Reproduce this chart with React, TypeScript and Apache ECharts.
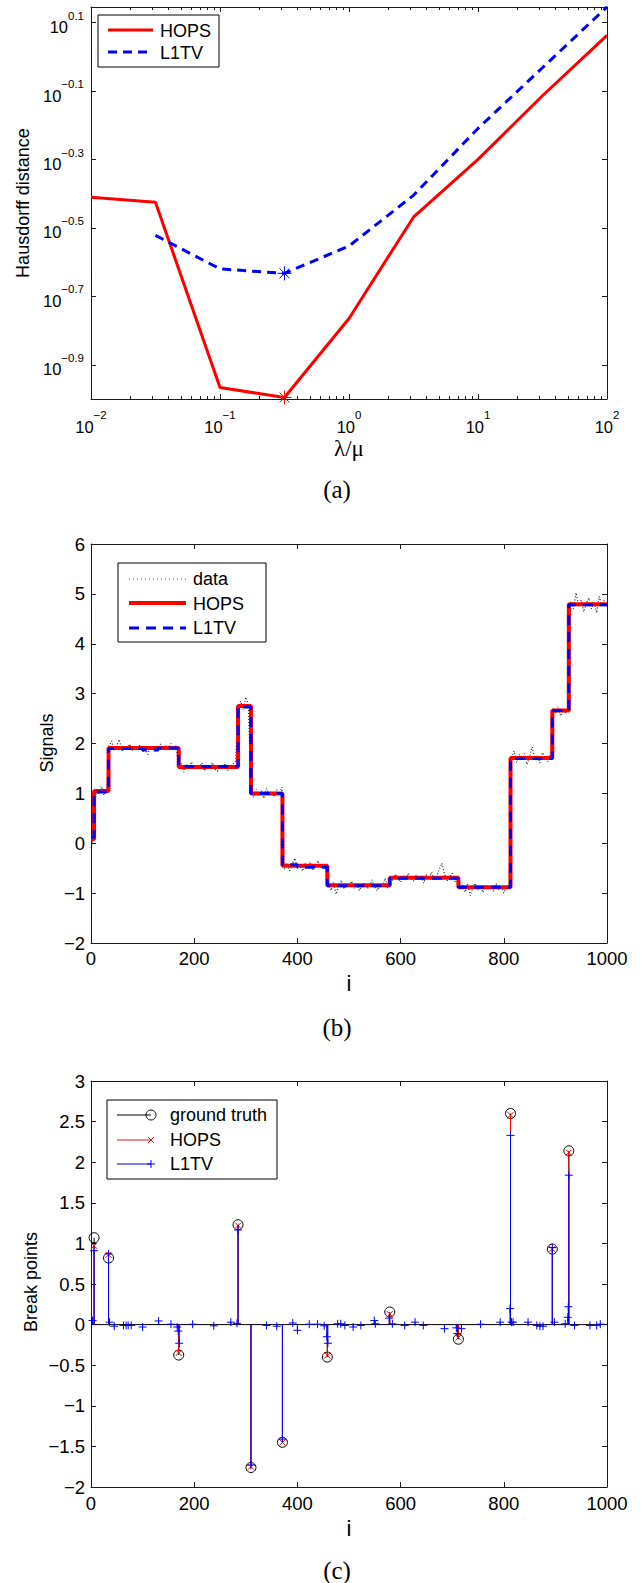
import React, { useEffect, useRef } from 'react';
import * as echarts from 'echarts';

const SANS = '"Liberation Sans", Arial, Helvetica, sans-serif';
const SERIF = '"Liberation Serif", "Times New Roman", serif';
const AX = '#1a1a1a';

// ---------- (a) Hausdorff distance vs lambda/mu ----------
const lambdaMu = [0.01, 0.0316, 0.1, 0.316, 1, 3.16, 10, 31.6, 100];
const hopsHausdorff = [0.389, 0.376, 0.108, 0.101, 0.172, 0.34, 0.502, 0.77, 1.156];
const l1tvHausdorff = [null, 0.301, 0.24, 0.233, 0.28, 0.394, 0.618, 0.93, 1.4];
const bestIndex = 3;
const aXTickExp = [-2, -1, 0, 1, 2];
const aYTickExp = [0.1, -0.1, -0.3, -0.5, -0.7, -0.9];

// ---------- (b) signals ----------
const hopsStarts = [0, 6, 34, 170, 285, 310, 371, 458, 579, 712, 813, 894, 926, 1000];
const hopsLevels = [0.08, 1.05, 1.91, 1.53, 2.75, 1.0, -0.45, -0.84, -0.69, -0.88, 1.71, 2.66, 4.79, 4.79];
const l1tvStarts = [0, 6, 34, 100, 130, 170, 285, 310, 371, 400, 458, 579, 712, 813, 894, 926, 1000];
const l1tvLevels = [0.12, 1.03, 1.9, 1.87, 1.91, 1.54, 2.73, 1.0, -0.43, -0.48, -0.85, -0.7, -0.88, 1.7, 2.66, 4.78, 4.78];
const dataStep = 5;
const dataValues = [
  -0.10, 0.15,
  1.08, 0.98, 1.14, 0.96, 1.06,
  1.95, 2.05, 1.85, 1.96, 2.08, 1.84, 1.93, 1.88, 1.99, 1.86, 1.95, 1.90, 1.97, 1.83, 1.92, 1.78, 1.94, 1.88, 1.96, 1.85, 1.99, 1.87, 1.95, 1.90, 2.00, 1.86, 1.97,
  1.48, 1.60, 1.42, 1.58, 1.50, 1.63, 1.47, 1.55, 1.52, 1.61, 1.45, 1.57, 1.50, 1.62, 1.49, 1.44, 1.56, 1.53, 1.60, 1.46, 1.54, 1.58, 1.65,
  2.72, 2.85, 2.68, 2.93, 2.78,
  1.02, 0.92, 1.08, 0.96, 1.05, 0.90, 1.10, 0.98, 1.04, 0.93, 1.07, 0.99, 1.12,
  -0.52, -0.40, -0.55, -0.42, -0.30, -0.50, -0.44, -0.56, -0.41, -0.48, -0.38, -0.53, -0.45, -0.35, -0.49, -0.43, -0.51,
  -0.80, -0.95, -0.78, -1.02, -0.86, -0.74, -0.92, -0.83, -0.88, -0.76, -0.90, -0.81, -0.95, -0.84, -0.79, -0.91, -0.86, -0.73, -0.88, -0.95, -0.82, -0.87, -0.70, -0.90,
  -0.65, -0.75, -0.62, -0.71, -0.78, -0.66, -0.73, -0.60, -0.70, -0.76, -0.64, -0.72, -0.67, -0.80, -0.63, -0.70, -0.58, -0.74, -0.66, -0.52, -0.40, -0.62, -0.75, -0.68, -0.60, -0.77, -0.66,
  -0.92, -0.84, -0.98, -0.82, -1.05, -0.89, -0.80, -0.94, -0.87, -0.99, -0.83, -0.91, -0.86, -0.96, -0.81, -0.93, -0.85, -1.00, -0.88, -0.82,
  1.72, 1.85, 1.62, 1.78, 1.68, 1.80, 1.58, 1.74, 1.93, 1.66, 1.76, 1.61, 1.82, 1.70, 1.64, 1.77,
  2.70, 2.60, 2.74, 2.55, 2.68, 2.62, 2.72,
  4.85, 4.70, 5.02, 4.75, 4.88, 4.64, 4.81, 4.92, 4.70, 4.84, 4.62, 4.95, 4.76, 4.88,
];

// ---------- (c) break points ----------
const truthIdx = [6, 34, 170, 285, 310, 371, 458, 579, 712, 813, 894, 926];
const truthVal = [1.07, 0.82, -0.375, 1.23, -1.76, -1.45, -0.4, 0.155, -0.18, 2.6, 0.93, 2.14];
const hopsBpVal = [0.97, 0.86, -0.35, 1.22, -1.75, -1.45, -0.38, 0.13, -0.16, 2.58, 0.93, 2.12];
const l1tvIdx = [3, 6, 34, 36, 45, 63, 68, 72, 78, 100, 131, 155, 167, 169, 171, 197, 238, 271, 283, 285, 310, 340, 360, 371, 391, 400, 423, 439, 452, 457, 459, 478, 484, 492, 508, 523, 549, 551, 578, 584, 608, 628, 644, 685, 708, 710, 718, 755, 793, 812, 813, 815, 818, 847, 864, 870, 876, 894, 898, 919, 924, 925, 926, 937, 967, 980, 987];
const l1tvVal = [0.05, 0.91, 0.87, 0.03, -0.02, -0.01, -0.01, -0.01, -0.01, -0.03, 0.045, 0.005, -0.03, -0.08, -0.23, 0.005, -0.015, 0.03, 0.015, 1.165, -1.73, -0.01, -0.02, -1.41, 0.02, -0.07, 0.005, 0.005, -0.015, -0.15, -0.23, 0.01, 0.01, -0.01, -0.03, -0.01, 0.05, 0.01, 0.08, 0.01, -0.01, 0.03, -0.01, -0.05, -0.04, -0.11, -0.05, 0.005, 0.03, 0.197, 2.33, 0.03, 0.03, 0.03, -0.01, -0.02, -0.02, 0.95, 0.03, 0.01, 0.09, 0.22, 1.84, -0.01, -0.01, -0.01, 0.005];

const minus = (s: string) => s.replace('-', '\u2212');
const fmtNum = (v: number) => minus(String(v));

function markerEls(kind: string, x: number, y: number, r: number, color: string, lw = 1): any[] {
  const L = (x1: number, y1: number, x2: number, y2: number) => ({
    type: 'line',
    shape: { x1, y1, x2, y2 },
    style: { stroke: color, lineWidth: lw },
  });
  if (kind === 'plus') return [L(x - r, y, x + r, y), L(x, y - r, x, y + r)];
  if (kind === 'x') {
    const d = r * 0.75;
    return [L(x - d, y - d, x + d, y + d), L(x - d, y + d, x + d, y - d)];
  }
  if (kind === 'star') {
    const d = r * 0.7;
    return [L(x - r, y, x + r, y), L(x, y - r, x, y + r), L(x - d, y - d, x + d, y + d), L(x - d, y + d, x + d, y - d)];
  }
  return [{ type: 'circle', shape: { cx: x, cy: y, r }, style: { fill: 'none', stroke: color, lineWidth: lw } }];
}

function markerSeries(data: number[][], kind: string, r: number, color: string, xi: number, yi: number, z: number) {
  return {
    type: 'custom',
    coordinateSystem: 'cartesian2d',
    xAxisIndex: xi,
    yAxisIndex: yi,
    z,
    data,
    encode: { x: 0, y: 1 },
    renderItem: (_p: any, api: any) => {
      const p = api.coord([api.value(0), api.value(1)]);
      return { type: 'group', children: markerEls(kind, p[0], p[1], r, color) };
    },
  };
}

function stemSeries(data: number[][], kind: string, r: number, color: string, xi: number, yi: number, z: number) {
  return {
    type: 'custom',
    coordinateSystem: 'cartesian2d',
    xAxisIndex: xi,
    yAxisIndex: yi,
    z,
    data,
    encode: { x: 0, y: 1 },
    renderItem: (_p: any, api: any) => {
      const x = api.value(0);
      const v = api.value(1);
      const p0 = api.coord([x, 0]);
      const p1 = api.coord([x, v]);
      return {
        type: 'group',
        children: [
          { type: 'line', shape: { x1: p0[0], y1: p0[1], x2: p1[0], y2: p1[1] }, style: { stroke: color, lineWidth: 1 } },
          ...markerEls(kind, p1[0], p1[1], r, color),
        ],
      };
    },
  };
}

const axisLineStyle = { show: true, onZero: false, lineStyle: { color: AX, width: 1 } };
const tickStyle = (extra: any = {}) => ({ show: true, inside: true, length: 5, lineStyle: { color: AX, width: 1 }, ...extra });
const labelStyle = { color: '#000', fontFamily: SANS, fontSize: 18.5 };

const supRich = {
  b: { fontFamily: SANS, fontSize: 16.5, color: '#000', lineHeight: 26, verticalAlign: 'bottom' },
  s: { fontFamily: SANS, fontSize: 11.5, color: '#000', lineHeight: 9, verticalAlign: 'top' },
};
const supLabel = (v: number) => `{b|10}{s|${fmtNum(v)}}`;

function buildOption(): any {
  const gridA = { left: 91, top: 7, width: 516, height: 392, containLabel: false };
  const gridB = { left: 91, top: 544, width: 516, height: 399, containLabel: false };
  const gridC = { left: 91, top: 1081, width: 516, height: 406, containLabel: false };

  const minorA: number[] = [];
  for (let d = -2; d < 2; d++) for (let k = 2; k <= 9; k++) minorA.push(d + Math.log10(k));

  const xAxis: any[] = [
    {
      type: 'value', gridIndex: 0, position: 'bottom', min: -2, max: 2, interval: 1,
      axisLine: axisLineStyle, axisTick: tickStyle({ customValues: aXTickExp }), splitLine: { show: false },
      axisLabel: { margin: 10, customValues: aXTickExp, formatter: supLabel, rich: supRich },
    },
    {
      type: 'value', gridIndex: 0, position: 'top', min: -2, max: 2, interval: 1,
      axisLine: axisLineStyle, axisTick: tickStyle(), splitLine: { show: false }, axisLabel: { show: false },
    },
    {
      type: 'value', gridIndex: 0, position: 'bottom', min: -2, max: 2,
      axisLine: { show: false, onZero: false }, axisTick: tickStyle({ length: 3, customValues: minorA }),
      splitLine: { show: false }, axisLabel: { show: false },
    },
    {
      type: 'value', gridIndex: 0, position: 'top', min: -2, max: 2,
      axisLine: { show: false, onZero: false }, axisTick: tickStyle({ length: 3, customValues: minorA }),
      splitLine: { show: false }, axisLabel: { show: false },
    },
    {
      type: 'value', gridIndex: 1, position: 'bottom', min: 0, max: 1000, interval: 200,
      axisLine: axisLineStyle, axisTick: tickStyle(), splitLine: { show: false },
      axisLabel: { ...labelStyle, margin: 6, formatter: fmtNum },
    },
    {
      type: 'value', gridIndex: 1, position: 'top', min: 0, max: 1000, interval: 200,
      axisLine: axisLineStyle, axisTick: tickStyle(), splitLine: { show: false }, axisLabel: { show: false },
    },
    {
      type: 'value', gridIndex: 2, position: 'bottom', min: 0, max: 1000, interval: 200,
      axisLine: axisLineStyle, axisTick: tickStyle(), splitLine: { show: false },
      axisLabel: { ...labelStyle, margin: 7, formatter: fmtNum },
    },
    {
      type: 'value', gridIndex: 2, position: 'top', min: 0, max: 1000, interval: 200,
      axisLine: axisLineStyle, axisTick: tickStyle(), splitLine: { show: false }, axisLabel: { show: false },
    },
  ];

  const yAxis: any[] = [
    {
      type: 'value', gridIndex: 0, position: 'left', min: -1, max: 0.146,
      axisLine: axisLineStyle, axisTick: tickStyle({ customValues: aYTickExp }), splitLine: { show: false },
      axisLabel: { margin: 7, customValues: aYTickExp, formatter: supLabel, rich: supRich },
    },
    {
      type: 'value', gridIndex: 0, position: 'right', min: -1, max: 0.146,
      axisLine: axisLineStyle, axisTick: tickStyle({ customValues: aYTickExp }), splitLine: { show: false },
      axisLabel: { show: false },
    },
    {
      type: 'value', gridIndex: 1, position: 'left', min: -2, max: 6, interval: 1,
      axisLine: axisLineStyle, axisTick: tickStyle(), splitLine: { show: false },
      axisLabel: { ...labelStyle, margin: 6, formatter: fmtNum },
    },
    {
      type: 'value', gridIndex: 1, position: 'right', min: -2, max: 6, interval: 1,
      axisLine: axisLineStyle, axisTick: tickStyle(), splitLine: { show: false }, axisLabel: { show: false },
    },
    {
      type: 'value', gridIndex: 2, position: 'left', min: -2, max: 3, interval: 0.5,
      axisLine: axisLineStyle, axisTick: tickStyle(), splitLine: { show: false },
      axisLabel: { ...labelStyle, margin: 6, formatter: fmtNum },
    },
    {
      type: 'value', gridIndex: 2, position: 'right', min: -2, max: 3, interval: 0.5,
      axisLine: axisLineStyle, axisTick: tickStyle(), splitLine: { show: false }, axisLabel: { show: false },
    },
  ];

  const hopsA = lambdaMu.map((x, i) => [Math.log10(x), Math.log10(hopsHausdorff[i])]);
  const l1tvA = lambdaMu
    .map((x, i) => (l1tvHausdorff[i] == null ? null : [Math.log10(x), Math.log10(l1tvHausdorff[i] as number)]))
    .filter((p) => p) as number[][];
  const bestHops = [[Math.log10(lambdaMu[bestIndex]), Math.log10(hopsHausdorff[bestIndex])]];
  const bestL1 = [[Math.log10(lambdaMu[bestIndex]), Math.log10(l1tvHausdorff[bestIndex] as number)]];

  const hopsB = hopsStarts.map((s, i) => [s, hopsLevels[i]]);
  const l1tvB = l1tvStarts.map((s, i) => [s, l1tvLevels[i]]);
  const dataB = dataValues.map((v, i) => [i * dataStep, v]);

  const truthC = truthIdx.map((s, i) => [s, truthVal[i]]);
  const hopsC = truthIdx.map((s, i) => [s, hopsBpVal[i]]);
  const l1tvC = l1tvIdx.map((s, i) => [s, l1tvVal[i]]);

  const series: any[] = [
    { type: 'line', xAxisIndex: 0, yAxisIndex: 0, data: hopsA, symbol: 'none', z: 2,
      lineStyle: { color: '#ff0000', width: 3 } },
    { type: 'line', xAxisIndex: 0, yAxisIndex: 0, data: l1tvA, symbol: 'none', z: 3,
      lineStyle: { color: '#0000ff', width: 3, type: [9, 6] } },
    markerSeries(bestHops, 'star', 7, '#ff0000', 0, 0, 4),
    markerSeries(bestL1, 'star', 7, '#0000ff', 0, 0, 4),

    { type: 'line', xAxisIndex: 4, yAxisIndex: 2, data: dataB, symbol: 'none', z: 2,
      lineStyle: { color: '#222', width: 1.2, type: [1, 2] } },
    { type: 'line', xAxisIndex: 4, yAxisIndex: 2, data: hopsB, step: 'end', symbol: 'none', z: 3,
      lineStyle: { color: '#ff0000', width: 4 } },
    { type: 'line', xAxisIndex: 4, yAxisIndex: 2, data: l1tvB, step: 'end', symbol: 'none', z: 4,
      lineStyle: { color: '#0000ff', width: 3, type: [10, 7] } },

    { type: 'line', xAxisIndex: 6, yAxisIndex: 4, data: [[0, 0], [1000, 0]], symbol: 'none', z: 2,
      lineStyle: { color: '#000', width: 1 } },
    stemSeries(truthC, 'circle', 5, '#000000', 6, 4, 3),
    stemSeries(hopsC, 'x', 4, '#ff0000', 6, 4, 4),
    stemSeries(l1tvC, 'plus', 4, '#0000ff', 6, 4, 5),
  ];

  const txt = (text: string, x: number, y: number, size: number, font = SANS, extra: any = {}) => ({
    type: 'text', x, y, z: 100, ...extra,
    style: { text, fontSize: size, fontFamily: font, fill: '#000', align: 'center', verticalAlign: 'middle' },
  });
  const ln = (x1: number, y1: number, x2: number, y2: number, stroke: string, lineWidth: number, lineDash?: number[]) => ({
    type: 'line', z: 101, shape: { x1, y1, x2, y2 }, style: { stroke, lineWidth, lineDash },
  });
  const box = (x: number, y: number, width: number, height: number) => ({
    type: 'rect', z: 100, shape: { x, y, width, height }, style: { fill: '#fff', stroke: '#000', lineWidth: 1 },
  });
  const leftTxt = (text: string, x: number, y: number) => ({
    type: 'text', x, y, z: 101,
    style: { text, fontSize: 18, fontFamily: SANS, fill: '#000', align: 'left', verticalAlign: 'middle' },
  });
  const mk = (els: any[]) => els.map((e) => ({ ...e, z: 102 }));

  const graphic: any[] = [
    txt('Hausdorff distance', 22.5, 203, 18, SANS, { rotation: Math.PI / 2 }),
    txt('\u03bb/\u03bc', 349, 448, 23, SERIF),
    txt('(a)', 337, 489, 25, SERIF),
    txt('Signals', 47, 743, 18, SANS, { rotation: Math.PI / 2 }),
    txt('i', 349, 983, 22, SANS),
    txt('(b)', 337, 1027, 25, SERIF),
    txt('Break points', 31, 1282, 18, SANS, { rotation: Math.PI / 2 }),
    txt('i', 349, 1528, 22, SANS),
    txt('(c)', 337, 1570, 25, SERIF),
    box(98, 15, 121, 52),
    ln(108, 30, 153, 30, '#ff0000', 3),
    ln(108, 52, 153, 52, '#0000ff', 3, [9, 6]),
    leftTxt('HOPS', 160, 31),
    leftTxt('L1TV', 160, 53),
    box(118, 563, 148, 79),
    ln(129, 579, 186, 579, '#555', 1, [1, 3]),
    ln(129, 603, 186, 603, '#ff0000', 4),
    ln(129, 628, 186, 628, '#0000ff', 3, [10, 7]),
    leftTxt('data', 193, 579),
    leftTxt('HOPS', 193, 604),
    leftTxt('L1TV', 193, 628),
    box(107, 1100, 170, 79),
    ln(117, 1115, 151, 1115, '#000', 1),
    ln(117, 1140, 151, 1140, '#d02020', 1),
    ln(117, 1164, 151, 1164, '#0000ff', 1),
    ...mk(markerEls('circle', 151, 1115, 5, '#000')),
    ...mk(markerEls('x', 151, 1140, 4, '#ff0000')),
    ...mk(markerEls('plus', 151, 1164, 4, '#0000ff')),
    leftTxt('ground truth', 170, 1115),
    leftTxt('HOPS', 170, 1140),
    leftTxt('L1TV', 170, 1164),
  ];

  return {
    animation: false,
    backgroundColor: '#fff',
    textStyle: { fontFamily: SANS },
    grid: [gridA, gridB, gridC],
    xAxis,
    yAxis,
    series,
    graphic,
  };
}

export default function App() {
  const ref = useRef<HTMLDivElement>(null);
  useEffect(() => {
    if (!ref.current) return;
    const chart = echarts.init(ref.current, null, { renderer: 'svg' });
    chart.setOption(buildOption());
    return () => chart.dispose();
  }, []);
  return (
    <div
      ref={ref}
      style={{ position: 'absolute', left: 0, top: 0, width: 642, height: 1583, background: '#fff' }}
    />
  );
}
